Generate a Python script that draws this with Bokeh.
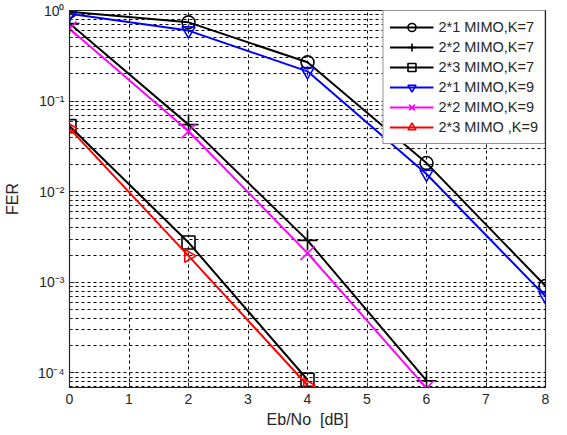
import math
from bokeh.plotting import figure
from bokeh.models import FixedTicker, CustomJSTickFormatter, Legend, LegendItem, Range1d
from bokeh.embed import file_html
from bokeh.resources import INLINE

# ---- data ----
ebno_a = [0, 2, 4, 6, 8]
ebno_b = [0, 2, 4, 6]
ebno_c = [0, 2, 4]

fer_21_k7 = [0.97, 0.74, 0.268, 0.0207, 0.00091]
fer_22_k7 = [0.72, 0.055, 0.0029, 0.000082]
fer_23_k7 = [0.053, 0.00275, 0.000084]
fer_21_k9 = [0.92, 0.60, 0.213, 0.0157, 0.00070]
fer_22_k9 = [0.63, 0.0464, 0.0021, 0.000068]
fer_23_k9 = [0.050, 0.00196, 0.000073]

labels = ["2*1 MIMO,K=7", "2*2 MIMO,K=7", "2*3 MIMO,K=7",
          "2*1 MIMO,K=9", "2*2 MIMO,K=9", "2*3 MIMO ,K=9"]

x_ticks = [0, 1, 2, 3, 4, 5, 6, 7, 8]
y_ticks = [1e-4, 1e-3, 1e-2, 1e-1, 1.0]
y_minor = [m * 10.0 ** d for d in range(-5, 0) for m in range(2, 10)]

FONT = "Liberation Sans"

p = figure(frame_width=476, frame_height=377, output_backend="svg", toolbar_location=None,
           y_axis_type="log", x_range=Range1d(0, 8), y_range=Range1d(6.9e-5, 1.0),
           min_border_left=69, min_border_right=14, min_border_top=10,
           min_border_bottom=40)
p.background_fill_color = "white"
p.border_fill_color = "white"
p.outline_line_color = "#262626"
p.outline_line_width = 1.2

# axes styling
p.xaxis.ticker = FixedTicker(ticks=x_ticks)
p.yaxis.ticker = FixedTicker(ticks=y_ticks, minor_ticks=y_minor)
p.yaxis.formatter = CustomJSTickFormatter(code="""
const e = Math.round(Math.log10(tick));
const sup = {'-':'\u207b','0':'\u2070','1':'\u00b9','2':'\u00b2','3':'\u00b3','4':'\u2074',
             '5':'\u2075','6':'\u2076','7':'\u2077','8':'\u2078','9':'\u2079'};
return '10' + String(e).split('').map(c => sup[c]).join('');
""")
for ax in (p.xaxis[0], p.yaxis[0]):
    ax.axis_line_color = "#262626"
    ax.major_tick_line_color = "#262626"
    ax.minor_tick_line_color = "#262626"
    ax.major_tick_in = 5
    ax.major_tick_out = 0
    ax.minor_tick_in = 3
    ax.minor_tick_out = 0
    ax.major_label_text_font = FONT
    ax.major_label_text_font_size = "14px"
    ax.major_label_text_color = "#262626"
    ax.axis_label_text_font = FONT
    ax.axis_label_text_font_size = "16px"
    ax.axis_label_text_font_style = "normal"
    ax.axis_label_text_color = "#262626"
p.xaxis.minor_tick_line_color = None
p.xaxis.axis_label = "Eb/No\u00a0 [dB]"
p.yaxis.axis_label = "FER"
p.xaxis.major_label_standoff = 6
p.yaxis.major_label_standoff = 5
p.xaxis.axis_label_standoff = 4
p.yaxis.axis_label_standoff = 14

# grid
for g in (p.xgrid[0], p.ygrid[0]):
    g.grid_line_color = "black"
    g.grid_line_dash = "3 3"
    g.grid_line_width = 1
p.ygrid.minor_grid_line_color = "black"
p.ygrid.minor_grid_line_dash = "3 3"
p.ygrid.minor_grid_line_width = 1

series = [
    (ebno_a, fer_21_k7, "black", "circle", 0.0),
    (ebno_b, fer_22_k7, "black", "cross", 0.0),
    (ebno_c, fer_23_k7, "black", "square", 0.0),
    (ebno_a, fer_21_k9, "#0000ff", "inverted_triangle", 0.0),
    (ebno_b, fer_22_k9, "#ff00ff", "x", 0.0),
    (ebno_c, fer_23_k9, "#ff0000", "triangle", -math.pi / 2),
]

items = []
for (xs, ys, col, mk, ang), lab in zip(series, labels):
    r1 = p.line(xs, ys, line_color=col, line_width=2)
    size = 20 if mk in ("cross", "x") else 13
    r2 = p.scatter(xs, ys, marker=mk, size=size, angle=ang, line_color=col,
                   fill_color=None, line_width=1.6)
    items.append(LegendItem(label=lab, renderers=[r1, r2]))

legend = Legend(items=items, location="top_right")
legend.margin = 0
legend.padding = 6
legend.spacing = 0
legend.glyph_width = 44
legend.glyph_height = 20
legend.label_height = 20
legend.label_standoff = 5
legend.label_text_font = FONT
legend.label_text_font_size = "14.5px"
legend.label_text_color = "#262626"
legend.border_line_color = "#262626"
legend.border_line_width = 1.2
legend.background_fill_alpha = 1.0
p.add_layout(legend, "center")

open("out.html", "w").write(file_html(p, INLINE))
